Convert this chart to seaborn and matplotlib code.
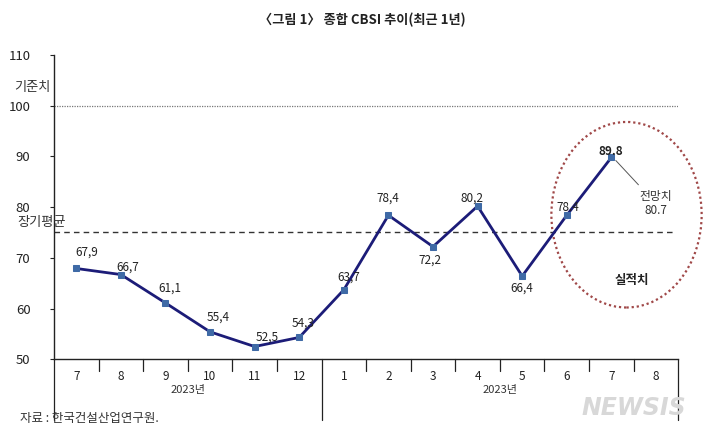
import matplotlib
matplotlib.use("Agg")
import matplotlib.pyplot as plt
import matplotlib.transforms as mtransforms
from matplotlib.patches import Ellipse
import seaborn as sns
import pandas as pd

# data
months = ["7", "8", "9", "10", "11", "12", "1", "2", "3", "4", "5", "6", "7", "8"]
actual = [67.9, 66.7, 61.1, 55.4, 52.5, 54.3, 63.7, 78.4, 72.2, 80.2, 66.4, 78.4, 89.8]
point_labels = ["67,9", "66,7", "61,1", "55,4", "52,5", "54,3", "63,7",
                "78,4", "72,2", "80,2", "66,4", "78.4", "89.8"]
forecast = 80.7
base_line = 100
long_avg = 75
years = ["2023년", "2023년"]

sns.set_theme(style="white")
plt.rcParams["font.family"] = ["Noto Sans CJK KR", "DejaVu Sans"]

df = pd.DataFrame({"idx": range(len(actual)), "val": actual})

fig = plt.figure(figsize=(7.2, 4.37), dpi=100)
ax = fig.add_axes([0.075, 0.178, 0.867, 0.696])

ax.axhline(base_line, color="#777777", lw=0.9, ls=(0, (1, 1)))
ax.axhline(long_avg, xmax=0.995, color="#333333", lw=1.0, ls=(0, (4, 3)))

sns.lineplot(data=df, x="idx", y="val", ax=ax, color="#1c1c78", lw=2,
             marker="s", markersize=5, markerfacecolor="#3f6aa6",
             markeredgecolor="#3f6aa6")

# value labels (offsets in pixels)
offsets = [(10, 16), (7, 7), (4, 15), (8, 15), (13, 9), (4, 14), (5, 13),
           (-1, 17), (-3, -13), (-6, 8), (0, -12), (1, 8), (-1, 6)]
for i, (v, lab) in enumerate(zip(actual, point_labels)):
    dx, dy = offsets[i]
    bold = "bold" if i == len(actual) - 1 else "normal"
    ax.annotate(lab, (i, v), xytext=(dx, dy), textcoords="offset pixels",
                ha="center", va="center", fontsize=8.5, color="#222222",
                fontweight=bold)

# forecast
ax.annotate("전망치\n80.7", xy=(12.1, actual[-1] - 0.6),
            xytext=(13.0, forecast), ha="center", va="center",
            fontsize=8.5, color="#333333", linespacing=1.1,
            arrowprops=dict(arrowstyle="-", lw=0.7, color="#555555",
                            shrinkA=2, shrinkB=0))

# circle around the actual values
ax.add_patch(Ellipse((12.34, 78.5), 3.37, 36.6, fill=False,
                     ec="#a04848", lw=1.6, ls=(0, (1, 1.3)), clip_on=False))
ax.text(12.45, 65.6, "실적치", ha="center", va="center", fontsize=9,
        fontweight="bold", color="#222222")

ax.set_xlim(-0.5, len(months) - 0.5)
ax.set_ylim(50, 110)
ax.set_yticks(range(50, 111, 10))
ax.set_xticks(range(len(months)))
ax.set_xticklabels(months)
ax.set_xlabel("")
ax.set_ylabel("")
ax.tick_params(axis="x", length=0, pad=8, labelsize=8.5, colors="#222222")
ax.tick_params(axis="y", length=3, width=0.8, left=True, pad=14,
               labelsize=9.5, colors="#222222")

for s in ["top", "right"]:
    ax.spines[s].set_visible(False)
for s in ["left", "bottom"]:
    ax.spines[s].set_color("#222222")
    ax.spines[s].set_linewidth(1.0)

# separators below the x axis
trans = mtransforms.blended_transform_factory(ax.transData, ax.transAxes)
for b in range(len(months) + 1):
    xb = b - 0.5
    low = -0.2 if b in (0, 6, len(months)) else -0.04
    ax.plot([xb, xb], [0, low], transform=trans, color="#222222",
            lw=0.9, clip_on=False)
ax.text(2.5, -0.1, years[0], transform=trans, ha="center", va="center",
        fontsize=8, color="#333333")
ax.text(9.5, -0.1, years[1], transform=trans, ha="center", va="center",
        fontsize=8, color="#333333")

# side labels
side = mtransforms.blended_transform_factory(ax.transAxes, ax.transData)
ax.text(-0.006, 103.6, "기준치", transform=side,
        ha="right", va="center", fontsize=9.5, color="#333333")
ax.text(0.019, 76.9, "장기평균", transform=side,
        ha="right", va="center", fontsize=9.5, color="#333333")

fig.text(0.503, 0.955, "〈그림 1〉 종합 CBSI 추이(최근 1년)", ha="center", va="center",
         fontsize=9.5, fontweight="bold", color="#222222")
fig.text(0.028, 0.043, "자료 : 한국건설산업연구원.", ha="left", va="center",
         fontsize=9, color="#333333")
fig.text(0.88, 0.067, "NEWSIS", ha="center", va="center", fontsize=17,
         fontweight="bold", fontstyle="italic", color="#d8d8d8",
         family=["DejaVu Sans"])

fig.savefig("out.png", dpi=100, facecolor="white")
